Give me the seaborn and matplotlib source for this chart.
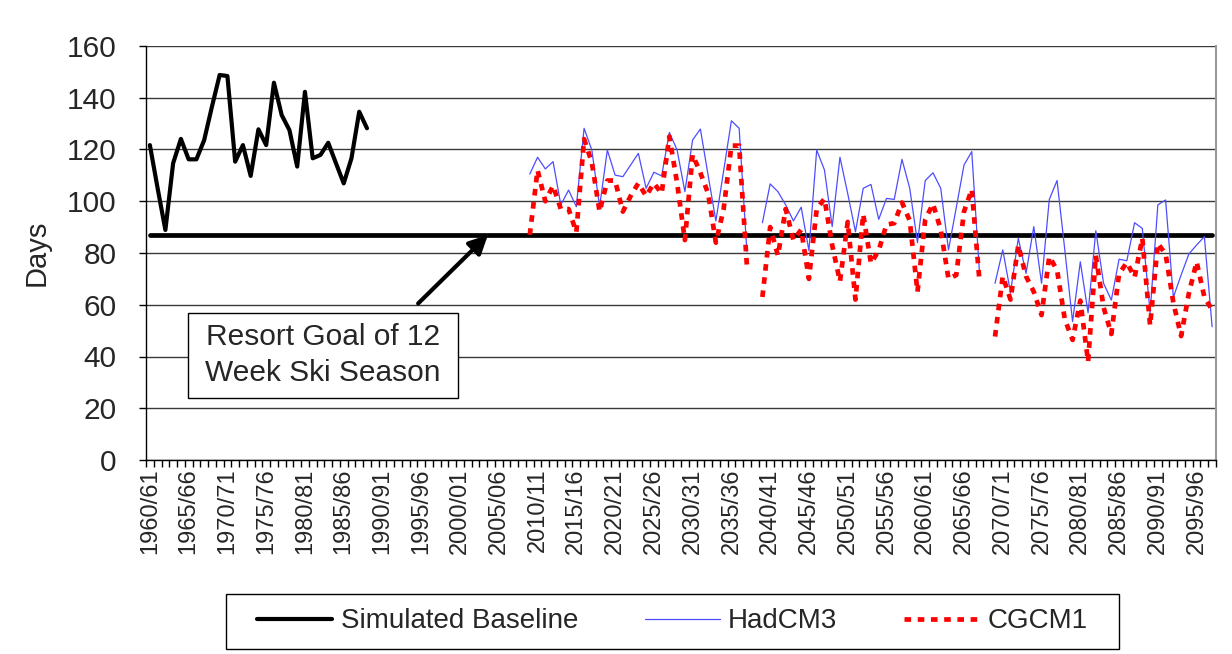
import numpy as np
import pandas as pd
import matplotlib
matplotlib.use("Agg")
import matplotlib.pyplot as plt
from matplotlib.lines import Line2D
from matplotlib.patches import Rectangle
import seaborn as sns

sns.set_theme(style="white")
plt.rcParams['font.family'] = ['Liberation Sans', 'DejaVu Sans']

# ---------------- data ----------------
first_year = 1960
last_year = 2097
seasons = [f"{y}/{(y + 1) % 100:02d}" for y in range(first_year, last_year + 1)]

baseline_start = "1960/61"
baseline = [121.7, 105, 88.9, 114.7, 124.1, 116.2, 116.2, 123.6, 136.5, 148.8,
            148.4, 115.3, 121.7, 109.8, 127.8, 121.7, 145.8, 133.3, 127.5, 113.4,
            142.3, 116.6, 117.9, 122.6, 114.7, 106.9, 116.6, 134.6, 128.2]

proj_start = "2009/10"
hadcm3 = [110.5, 117, 112.5, 115.3, 98.6, 104.3, 97.9, 128.2, 119.8, 97.9,
          119.8, 110.1, 109.5, 114, 118.5, 105, 111.2, 109.8, 126.6, 119.8,
          103.7, 123.7, 127.9, 110, 92.4, 111.8, 131.1, 128.2, 80.5, None,
          91.7, 106.7, 103.7, 98.6, 92.4, 97.7, 80.9, 119.8, 112.1, 90.2,
          117, 103, 88.2, 105, 106.5, 93, 101.1, 100.7, 116.2, 105,
          84, 108, 111, 105, 81.2, 97.5, 114, 119.2, 72.1, None,
          68.3, 81.2, 64.7, 85.7, 72.1, 90.2, 68.3, 100.7, 108, 81.2,
          53.5, 76.6, 56.9, 88.6, 68.3, 61.8, 77.6, 77, 91.7, 89.5,
          56.9, 98.6, 100.5, 62.9, 71.5, 79.6, 83.1, 86.3, 51.5]
cgcm1 = [87, 112, 100, 106, 97, 97, 88, 124, 115, 96,
         108, 108, 96, 102, 107, 102, 107, 103, 125, 107,
         85, 118, 111, 103, 84, 97, 121.5, 121.5, 75, None,
         63, 90, 79, 97, 85, 89, 70, 97, 101, 83,
         69, 92, 62, 95, 76, 81, 91, 91.5, 99.5, 92.5,
         65, 93, 99, 89, 70, 71.5, 96, 104.6, 69, None,
         47.7, 71, 62, 83, 71, 65, 56, 78.6, 73.4, 54.4,
         46.4, 61.6, 38, 79, 59, 48.7, 72, 76.3, 70.6, 85.7,
         52, 83.7, 79.6, 60.8, 47.9, 64.4, 76.6, 63, 58]

resort_goal = 87
label_step = 5

series_names = ["Simulated Baseline", "HadCM3", "CGCM1"]
annotation_text = "Resort Goal of 12\nWeek Ski Season"
y_label = "Days"

# ---------------- build tidy frames ----------------
idx_of = {s: i for i, s in enumerate(seasons)}


def make_frame(values, start, name):
    i0 = idx_of[start]
    df = pd.DataFrame({"x": np.arange(i0, i0 + len(values)),
                       "days": pd.array(values, dtype="float"),
                       "series": name})
    df["seg"] = df["days"].isna().cumsum()
    return df.dropna()


df_base = make_frame(baseline, baseline_start, series_names[0])
df_had = make_frame(hadcm3, proj_start, series_names[1])
df_cg = make_frame(cgcm1, proj_start, series_names[2])
df_goal = pd.DataFrame({"x": np.arange(len(seasons)), "days": resort_goal})

# ---------------- figure ----------------
W, H = 1232, 654
fig = plt.figure(figsize=(W / 100, H / 100), dpi=100)
fig.patch.set_facecolor("white")
ax = fig.add_axes([146 / W, 1 - 460 / H, (1216 - 146) / W, (460 - 46) / H])

blue = "#4d4dff"
red = "#ff0000"
red_dash = (1.4, 1.4)

sns.lineplot(data=df_goal, x="x", y="days", ax=ax, color="black",
             linewidth=3.4, legend=False, zorder=3)
for seg, d in df_had.groupby("seg"):
    sns.lineplot(data=d, x="x", y="days", ax=ax, color=blue, linewidth=0.9,
                 legend=False, zorder=4)
n_before = len(ax.lines)
for seg, d in df_cg.groupby("seg"):
    sns.lineplot(data=d, x="x", y="days", ax=ax, color=red, linewidth=3.4,
                 legend=False, zorder=5)
for ln in ax.lines[n_before:]:
    ln.set_dashes(red_dash)
    ln.set_dash_capstyle("butt")
sns.lineplot(data=df_base, x="x", y="days", ax=ax, color="black",
             linewidth=3.0, legend=False, zorder=6)

ax.set_xlim(-0.5, len(seasons) - 0.5)
ax.set_ylim(0, 160)

ax.spines["top"].set_visible(False)
ax.spines["right"].set_visible(True)
ax.spines["right"].set_color("#9a9a9a")
ax.spines["right"].set_linewidth(1.5)
for s in ["left", "bottom"]:
    ax.spines[s].set_color("black")
    ax.spines[s].set_linewidth(1.0)

ax.set_yticks(np.arange(0, 161, 20))
ax.yaxis.grid(True, color="#3a3a3a", linewidth=1.0)
ax.xaxis.grid(False)
ax.set_axisbelow(True)
ax.tick_params(axis="y", which="major", direction="out", length=5, width=1,
               color="black", labelsize=21.5, pad=16, left=True, right=False)

major = np.arange(0, len(seasons), label_step)
ax.set_xticks(major)
ax.set_xticklabels([seasons[i] for i in major], rotation=90, fontsize=17)
ax.set_xticks(np.arange(-0.5, len(seasons) + 0.5, 1), minor=True)
ax.tick_params(axis="x", which="major", length=0, pad=6)
ax.tick_params(axis="x", which="minor", direction="out", length=5, width=1,
               color="black", bottom=True)

ax.set_xlabel("")
ax.set_ylabel(y_label, fontsize=21, labelpad=12)

# annotation: arrow + boxed text
ax.annotate("", xy=(43.6, resort_goal), xytext=(34.6, 60.5),
            arrowprops=dict(arrowstyle="-|>", color="black", lw=3,
                            mutation_scale=28, shrinkA=0, shrinkB=0),
            zorder=7)
ax.add_patch(Rectangle((4.9, 24.0), 34.8, 32.8, facecolor="white",
                       edgecolor="black", linewidth=1, zorder=8))
ax.text(22.3, 40.6, annotation_text, ha="center", va="center", fontsize=21.5,
        linespacing=1.4, zorder=9)

# legend
handles = [
    Line2D([], [], color="black", linewidth=3.0),
    Line2D([], [], color=blue, linewidth=0.9),
    Line2D([], [], color=red, linewidth=3.4, dashes=red_dash,
           dash_capstyle="butt"),
]
fig.add_artist(Rectangle((226 / W, 1 - 649 / H), (1119 - 226) / W, 55 / H,
                         transform=fig.transFigure, facecolor="white",
                         edgecolor="black", linewidth=1.0))
leg = fig.legend(handles, series_names, loc="center", ncol=3,
                 bbox_to_anchor=(672.5 / W, 1 - 621.5 / H), fontsize=20,
                 frameon=False, handlelength=2.7, handletextpad=0.3,
                 columnspacing=2.4, borderpad=0.3)

fig.savefig("out.png", dpi=100)
